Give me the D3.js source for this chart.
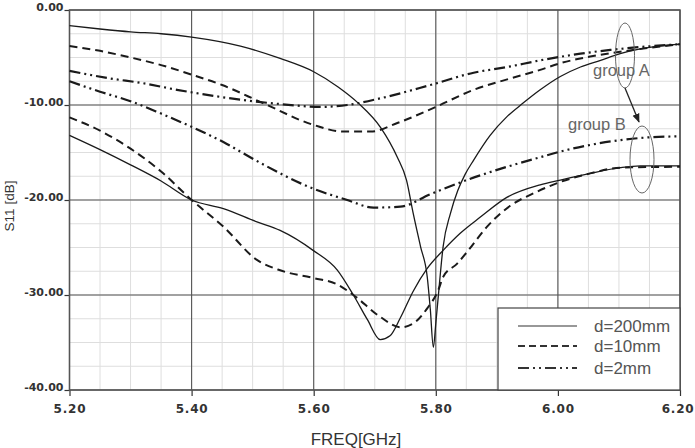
<!DOCTYPE html>
<html>
<head>
<meta charset="utf-8">
<script src="https://cdn.jsdelivr.net/npm/d3@7"></script>
<style>
  body { margin: 0; background: #fff; }
  svg { display: block; }
</style>
</head>
<body>
<div id="chart"></div>
<script>
// S11 vs frequency, two groups of curves (A and B) for three distances d

const xTicks = [5.2, 5.4, 5.6, 5.8, 6.0, 6.2];
const yTicks = [0, -10, -20, -30, -40];

// [freq GHz, S11 dB]
const d200A = [[5.20,-1.65],[5.25,-2.0],[5.30,-2.3],[5.35,-2.5],[5.40,-2.85],[5.48,-3.8],[5.545,-5.1],
  [5.60,-6.5],[5.64,-8.1],[5.673,-9.8],[5.71,-12.4],[5.737,-15.5],[5.752,-17.9],[5.763,-21.4],
  [5.775,-24.9],[5.786,-28.1],[5.791,-31.5],[5.796,-35.5],[5.800,-33.0],[5.804,-30.2],[5.812,-24.9],
  [5.824,-21.4],[5.836,-19.0],[5.848,-17.3],[5.862,-15.8],[5.889,-13.2],[5.917,-11.2],[5.943,-9.8],
  [5.971,-8.4],[6.004,-7.0],[6.037,-6.0],[6.07,-5.3],[6.102,-4.6],[6.135,-4.1],[6.20,-3.6]];

const d200B = [[5.20,-13.2],[5.25,-14.7],[5.30,-16.3],[5.35,-18.0],[5.40,-20.0],[5.452,-20.9],
  [5.507,-22.3],[5.545,-23.2],[5.599,-25.3],[5.639,-27.4],[5.665,-30.0],[5.688,-32.6],[5.709,-34.7],
  [5.725,-34.3],[5.742,-32.4],[5.763,-29.6],[5.786,-27.2],[5.812,-25.3],[5.84,-23.5],[5.873,-21.8],
  [5.917,-19.7],[5.971,-18.4],[6.004,-17.9],[6.053,-17.2],[6.102,-16.6],[6.135,-16.4],[6.20,-16.4]];

const d10A = [[5.20,-3.8],[5.25,-4.3],[5.30,-5.0],[5.35,-5.8],[5.40,-6.8],[5.45,-7.9],[5.517,-9.8],
  [5.60,-12.1],[5.648,-12.8],[5.693,-12.8],[5.737,-11.9],[5.80,-10.2],[5.862,-8.4],[5.917,-7.3],
  [5.971,-6.3],[6.004,-5.6],[6.053,-4.9],[6.102,-4.4],[6.20,-3.6]];

const d10B = [[5.20,-11.3],[5.25,-12.7],[5.30,-14.6],[5.35,-17.0],[5.40,-20.0],
  [5.452,-22.8],[5.507,-26.3],[5.545,-27.4],[5.599,-28.2],[5.639,-28.9],[5.665,-30.0],[5.709,-32.3],
  [5.742,-33.4],[5.763,-33.0],[5.786,-31.4],[5.804,-29.5],[5.812,-28.1],[5.835,-26.7],[5.852,-25.4],
  [5.884,-22.8],[5.922,-20.6],[5.96,-19.3],[6.004,-18.1],[6.053,-17.2],[6.102,-16.6],[6.20,-16.5]];

const d2A = [[5.20,-6.4],[5.266,-7.2],[5.32,-7.7],[5.376,-8.4],[5.442,-9.1],[5.50,-9.6],[5.545,-9.9],
  [5.611,-10.2],[5.655,-10.0],[5.709,-9.3],[5.791,-7.9],[5.862,-6.6],[5.917,-6.0],[5.971,-5.3],
  [6.037,-4.6],[6.086,-4.2],[6.135,-3.9],[6.20,-3.6]];

const d2B = [[5.20,-7.5],[5.25,-8.6],[5.30,-9.6],[5.35,-10.9],[5.40,-12.3],[5.452,-13.9],[5.507,-15.9],
  [5.599,-18.8],[5.655,-20.0],[5.698,-20.8],[5.742,-20.7],[5.791,-19.4],[5.855,-17.8],[5.917,-16.5],
  [5.971,-15.5],[6.004,-14.9],[6.053,-14.2],[6.102,-13.7],[6.15,-13.4],[6.20,-13.3]];

const legendLabels = ["d=200mm", "d=10mm", "d=2mm"];

// line styles for the three distances
const styles = [
  { dash: null, width: 1.3 },
  { dash: "8,5", width: 2 },
  { dash: "11,4,2,4,2,4", width: 2.2 }
];

const series = [
  { data: d200A, s: 0 }, { data: d200B, s: 0 },
  { data: d10A, s: 1 }, { data: d10B, s: 1 },
  { data: d2A, s: 2 }, { data: d2B, s: 2 }
];

const width = 695, height = 448;
const plotL = 69.5, plotR = 680, plotT = 10, plotB = 390;

const svg = d3.select("#chart").append("svg")
  .attr("width", width)
  .attr("height", height);

const x = d3.scaleLinear().domain([5.2, 6.2]).range([plotL, plotR]);
const y = d3.scaleLinear().domain([-40, 0]).range([plotB, plotT]);

// minor grid
const g = svg.append("g");
g.selectAll(".vminor")
  .data(d3.range(5.2, 6.2001, 0.05))
  .join("line")
  .attr("x1", d => x(d)).attr("x2", d => x(d))
  .attr("y1", plotT).attr("y2", plotB)
  .attr("stroke", "#dedede").attr("stroke-width", 1);
g.selectAll(".hminor")
  .data(d3.range(-40, 0.001, 2.5))
  .join("line")
  .attr("x1", plotL).attr("x2", plotR)
  .attr("y1", d => y(d)).attr("y2", d => y(d))
  .attr("stroke", "#dedede").attr("stroke-width", 1);

// major grid
g.selectAll(".vmajor")
  .data(xTicks)
  .join("line")
  .attr("x1", d => x(d)).attr("x2", d => x(d))
  .attr("y1", plotT).attr("y2", plotB)
  .attr("stroke", "#555").attr("stroke-width", 1.1);
g.selectAll(".hmajor")
  .data(yTicks)
  .join("line")
  .attr("x1", plotL).attr("x2", plotR)
  .attr("y1", d => y(d)).attr("y2", d => y(d))
  .attr("stroke", "#555").attr("stroke-width", 1.1);

// axes
const xAxis = d3.axisBottom(x)
  .tickValues(xTicks)
  .tickSize(6)
  .tickPadding(8)
  .tickFormat(d => d.toFixed(2));
const yAxis = d3.axisLeft(y)
  .tickValues(yTicks)
  .tickSize(5)
  .tickPadding(1)
  .tickFormat(d => d.toFixed(2));

const gx = svg.append("g")
  .attr("transform", `translate(0,${plotB})`)
  .call(xAxis);
gx.select(".domain").remove();
gx.selectAll("line").attr("stroke", "#333").attr("stroke-width", 1.2);
gx.selectAll("text")
  .attr("font-family", "DejaVu Sans")
  .attr("font-weight", "bold")
  .attr("font-size", 12)
  .attr("letter-spacing", 0.8)
  .attr("fill", "#333")
  // the last label sits against the right edge of the window
  .attr("text-anchor", (d, i) => i === xTicks.length - 1 ? "end" : "middle")
  .attr("dx", (d, i) => i === xTicks.length - 1 ? 14 : 0);

const gy = svg.append("g")
  .attr("transform", `translate(${plotL},0)`)
  .call(yAxis);
gy.select(".domain").remove();
gy.selectAll("line").attr("stroke", "#333").attr("stroke-width", 1.2);
gy.selectAll("text")
  .attr("dy", "0em")
  .attr("font-family", "DejaVu Sans")
  .attr("font-weight", "bold")
  .attr("font-size", 11)
  .attr("fill", "#333");

// frame
svg.append("rect")
  .attr("x", plotL).attr("y", plotT)
  .attr("width", plotR - plotL).attr("height", plotB - plotT)
  .attr("fill", "none")
  .attr("stroke", "#555")
  .attr("stroke-width", 1.5);

// curves
const line = d3.line()
  .x(d => x(d[0]))
  .y(d => y(d[1]))
  .curve(d3.curveMonotoneX);

svg.append("g").selectAll("path")
  .data(series)
  .join("path")
  .attr("d", d => line(d.data))
  .attr("fill", "none")
  .attr("stroke", "#1a1a1a")
  .attr("stroke-width", d => styles[d.s].width)
  .attr("stroke-dasharray", d => styles[d.s].dash);

// legend
const lg = svg.append("g");
lg.append("rect")
  .attr("x", 498).attr("y", 308)
  .attr("width", plotR - 498).attr("height", plotB - 308)
  .attr("fill", "#fff")
  .attr("stroke", "#444")
  .attr("stroke-width", 1.2);

const rows = lg.selectAll(".row")
  .data(legendLabels)
  .join("g")
  .attr("transform", (d, i) => `translate(0,${[326, 346, 368][i]})`);
rows.append("line")
  .attr("x1", 518).attr("x2", 577)
  .attr("stroke", "#333")
  .attr("stroke-width", (d, i) => styles[i].width * 0.9)
  .attr("stroke-dasharray", (d, i) => i === 1 ? "7,4" : styles[i].dash);
rows.append("text")
  .attr("x", 594)
  .attr("dy", "0.36em")
  .attr("font-family", "Liberation Sans, Arial, sans-serif")
  .attr("font-size", 17)
  .attr("fill", "#555")
  .text(d => d);

// axis titles
svg.append("text")
  .attr("x", 356).attr("y", 445)
  .attr("text-anchor", "middle")
  .attr("font-family", "Liberation Sans, Arial, sans-serif")
  .attr("font-size", 17)
  .attr("fill", "#333")
  .text("FREQ[GHz]");

svg.append("text")
  .attr("transform", "translate(14,206) rotate(-90)")
  .attr("text-anchor", "middle")
  .attr("font-family", "Liberation Sans, Arial, sans-serif")
  .attr("font-size", 13.5)
  .attr("fill", "#333")
  .text("S11 [dB]");

// group annotations
svg.append("defs").append("marker")
  .attr("id", "arrow")
  .attr("viewBox", "0 0 10 10")
  .attr("refX", 9).attr("refY", 5)
  .attr("markerWidth", 7).attr("markerHeight", 7)
  .attr("orient", "auto")
  .append("path")
  .attr("d", "M0,1 L10,5 L0,9 z")
  .attr("fill", "#222");

const ann = svg.append("g");
ann.append("ellipse")
  .attr("cx", 625).attr("cy", 55.5)
  .attr("rx", 9.5).attr("ry", 32.5)
  .attr("fill", "none").attr("stroke", "#666").attr("stroke-width", 1);
ann.append("ellipse")
  .attr("cx", 642).attr("cy", 159.5)
  .attr("rx", 12).attr("ry", 33.5)
  .attr("fill", "none").attr("stroke", "#666").attr("stroke-width", 1);
ann.append("line")
  .attr("x1", 625).attr("y1", 88)
  .attr("x2", 639).attr("y2", 122)
  .attr("stroke", "#222").attr("stroke-width", 1.3)
  .attr("marker-end", "url(#arrow)");
ann.append("text")
  .attr("x", 593).attr("y", 76)
  .attr("font-family", "Liberation Sans, Arial, sans-serif")
  .attr("font-size", 16.5)
  .attr("fill", "#666")
  .text("group A");
ann.append("text")
  .attr("x", 568).attr("y", 130)
  .attr("font-family", "Liberation Sans, Arial, sans-serif")
  .attr("font-size", 16.5)
  .attr("fill", "#666")
  .text("group B");
</script>
</body>
</html>
